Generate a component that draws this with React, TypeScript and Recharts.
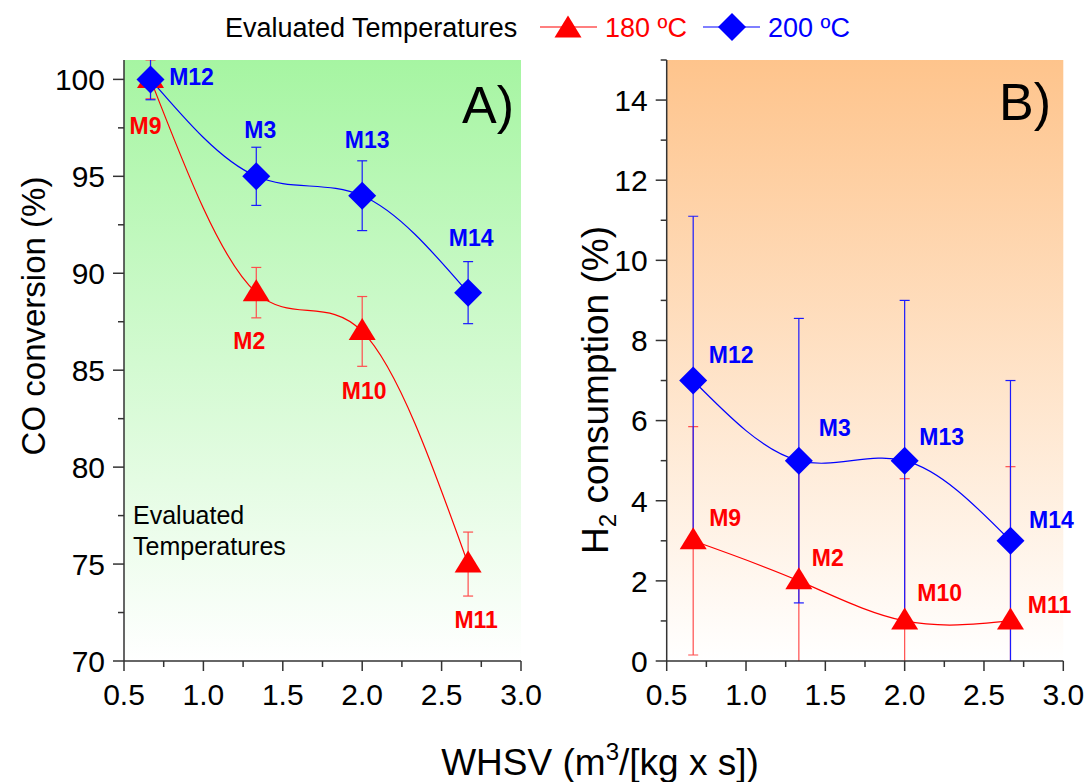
import React from "react";
import {
  LineChart,
  Line,
  XAxis,
  YAxis,
  ErrorBar,
  LabelList,
  ReferenceArea,
} from "recharts";

// WHSV values (m3/[kg x s]) shared by both panels
const whsv = [0.667, 1.333, 2.0, 2.667];
const samples180 = ["M9", "M2", "M10", "M11"];
const samples200 = ["M12", "M3", "M13", "M14"];

// A) CO conversion (%)
const co180 = [100, 89, 87, 75];
const co180Err = [1.0, 1.3, 1.8, 1.65];
const co200 = [100, 95, 94, 89];
const co200Err = [1.05, 1.5, 1.8, 1.6];

// B) H2 consumption (%)
const h2180 = [3, 2, 1, 1];
const h2180Err = [2.85, 3.2, 3.55, 3.85];
const h2200 = [7, 5, 5, 3];
const h2200Err = [4.1, 3.55, 4.0, 4.0];

const xTicks = [0.5, 0.75, 1.0, 1.25, 1.5, 1.75, 2.0, 2.25, 2.5, 2.75, 3.0];
const xMajor = [0.5, 1.0, 1.5, 2.0, 2.5, 3.0];
const coTicks = [70, 72.5, 75, 77.5, 80, 82.5, 85, 87.5, 90, 92.5, 95, 97.5, 100];
const coMajor = [70, 75, 80, 85, 90, 95, 100];
const h2Ticks = [0, 1, 2, 3, 4, 5, 6, 7, 8, 9, 10, 11, 12, 13, 14, 15];
const h2Major = [0, 2, 4, 6, 8, 10, 12, 14];

const legendTitle = "Evaluated Temperatures";
const series180 = "180 ºC";
const series200 = "200 ºC";

const coRows = whsv.map((x, i) => ({
  x,
  v180: co180[i],
  e180: co180Err[i],
  n180: samples180[i],
  v200: co200[i],
  e200: co200Err[i],
  n200: samples200[i],
}));

const h2Rows = whsv.map((x, i) => ({
  x,
  v180: h2180[i],
  e180: h2180Err[i],
  n180: samples180[i],
  v200: h2200[i],
  e200: h2200Err[i],
  n200: samples200[i],
}));

// label offsets from the marker (px), per point
const coPos180 = [[-5, 46], [-7, 48], [2, 59], [8, 56]];
const coPos200 = [[41, -3], [4, -47], [5, -56], [3, -55]];
const h2Pos180 = [[32, -23], [29, -23], [35, -28], [39, -16]];
const h2Pos200 = [[38, -26], [36, -33], [37, -24], [41, -21]];

const RED = "#ff0000";
const BLUE = "#0000ff";
const AXIS = "#333333";
const FONT = '"Liberation Sans", Arial, sans-serif';
const H = 782;

const tri = (cx: number, cy: number, fill: string) => (
  <polygon
    points={`${cx},${cy - 13.5} ${cx + 13.5},${cy + 8.5} ${cx - 13.5},${cy + 8.5}`}
    fill={fill}
  />
);

const diamond = (cx: number, cy: number, fill: string) => (
  <polygon
    points={`${cx},${cy - 14} ${cx + 14},${cy} ${cx},${cy + 14} ${cx - 14},${cy}`}
    fill={fill}
  />
);

const makeXTick = (props: any) => {
  const { x, y, payload } = props;
  const major = xMajor.includes(payload.value);
  return (
    <g>
      <line x1={x} x2={x} y1={y} y2={y + (major ? 10 : 6)} stroke={AXIS} strokeWidth={1.5} />
      {major && (
        <text x={x} y={y + 44} textAnchor="middle" fontSize={30} fill="#000" fontFamily={FONT}>
          {payload.value.toFixed(1)}
        </text>
      )}
    </g>
  );
};

const makeYTick = (majors: number[]) => (props: any) => {
  const { x, y, payload } = props;
  const major = majors.includes(payload.value);
  return (
    <g>
      <line x1={x} x2={x - (major ? 11 : 6)} y1={y} y2={y} stroke={AXIS} strokeWidth={1.5} />
      {major && (
        <text x={x - 19} y={y} dy="0.36em" textAnchor="end" fontSize={30} fill="#000" fontFamily={FONT}>
          {payload.value}
        </text>
      )}
    </g>
  );
};

const makeLabel = (pos: number[][], color: string) => (props: any) => {
  const vb = props.viewBox || {};
  const px = props.x ?? vb.x;
  const py = props.y ?? vb.y;
  const [dx, dy] = pos[props.index] || [0, 0];
  return (
    <text
      x={px + dx}
      y={py + dy}
      dy="0.36em"
      textAnchor="middle"
      fontSize={23}
      fontWeight="bold"
      fill={color}
      fontFamily={FONT}
    >
      {props.value}
    </text>
  );
};

function Panel({
  rows,
  yDomain,
  yTicks,
  yMajor,
  gradId,
  gradTop,
  pos180,
  pos200,
  width,
  margin,
}: any) {
  const clipId = `${gradId}-clip`;
  const plotX = margin.left + 60;
  const plotW = width - margin.right - plotX;
  const plotH = H - margin.top - margin.bottom - 40;
  return (
    <LineChart width={width} height={H} data={rows} margin={margin}>
      <defs>
        <linearGradient id={gradId} x1="0" y1="0" x2="0" y2="1">
          <stop offset="0%" stopColor={gradTop} />
          <stop offset="100%" stopColor="#ffffff" />
        </linearGradient>
        <clipPath id={clipId}>
          <rect x={plotX} y={margin.top} width={plotW} height={plotH} />
        </clipPath>
      </defs>
      <ReferenceArea
        x1={0.5}
        x2={3}
        y1={yDomain[0]}
        y2={yDomain[1]}
        fill={`url(#${gradId})`}
        fillOpacity={1}
        stroke="none"
      />
      <XAxis
        dataKey="x"
        type="number"
        domain={[0.5, 3]}
        ticks={xTicks}
        interval={0}
        tickSize={0}
        tickMargin={0}
        tickLine={false}
        height={40}
        axisLine={{ stroke: AXIS, strokeWidth: 1.5 }}
        tick={makeXTick}
      />
      <YAxis
        type="number"
        domain={yDomain}
        ticks={yTicks}
        interval={0}
        allowDataOverflow
        tickSize={0}
        tickMargin={0}
        tickLine={false}
        width={60}
        axisLine={{ stroke: AXIS, strokeWidth: 1.5 }}
        tick={makeYTick(yMajor)}
      />
      <Line
        dataKey="v180"
        type="natural"
        stroke={RED}
        strokeWidth={1.2}
        isAnimationActive={false}
        dot={(p: any) => <g key={`r${p.index}`}>{tri(p.cx, p.cy, RED)}</g>}
      >
        <ErrorBar
          dataKey="e180"
          width={5}
          stroke="#ff4d4d"
          strokeWidth={1.2}
          direction="y"
          clipPath={`url(#${clipId})`}
          isAnimationActive={false}
        />
        <LabelList dataKey="n180" content={makeLabel(pos180, RED)} />
      </Line>
      <Line
        dataKey="v200"
        type="natural"
        stroke={BLUE}
        strokeWidth={1.2}
        isAnimationActive={false}
        dot={(p: any) => <g key={`b${p.index}`}>{diamond(p.cx, p.cy, BLUE)}</g>}
      >
        <ErrorBar
          dataKey="e200"
          width={5}
          stroke="#1a1aff"
          strokeWidth={1.2}
          direction="y"
          clipPath={`url(#${clipId})`}
          isAnimationActive={false}
        />
        <LabelList dataKey="n200" content={makeLabel(pos200, BLUE)} />
      </Line>
    </LineChart>
  );
}

export default function App() {
  return (
    <div
      style={{
        position: "absolute",
        left: 0,
        top: 0,
        width: 1090,
        height: H,
        background: "#fff",
        fontFamily: FONT,
        overflow: "hidden",
      }}
    >
      <div style={{ position: "absolute", left: 0, top: 0 }}>
        <Panel
          rows={coRows}
          yDomain={[70, 101]}
          yTicks={coTicks}
          yMajor={coMajor}
          gradId="gradA"
          gradTop="#a6f5a2"
          pos180={coPos180}
          pos200={coPos200}
          width={560}
          margin={{ top: 60, right: 39, bottom: 81, left: 64 }}
        />
      </div>
      <div style={{ position: "absolute", left: 560, top: 0 }}>
        <Panel
          rows={h2Rows}
          yDomain={[0, 15]}
          yTicks={h2Ticks}
          yMajor={h2Major}
          gradId="gradB"
          gradTop="#fec48c"
          pos180={h2Pos180}
          pos200={h2Pos200}
          width={530}
          margin={{ top: 60, right: 26.7, bottom: 81, left: 46.7 }}
        />
      </div>
      <svg
        width={1090}
        height={H}
        style={{ position: "absolute", left: 0, top: 0, pointerEvents: "none" }}
        fontFamily={FONT}
      >
        {/* legend */}
        <text x={225} y={37} fontSize={27} fill="#000">
          {legendTitle}
        </text>
        <line x1={540} x2={597} y1={27} y2={27} stroke={RED} strokeWidth={1.2} />
        {tri(568, 29, RED)}
        <text x={605} y={37} fontSize={27} fill={RED}>
          {series180}
        </text>
        <line x1={703} x2={760} y1={27} y2={27} stroke={BLUE} strokeWidth={1.2} />
        {diamond(732, 27, BLUE)}
        <text x={768} y={37} fontSize={27} fill={BLUE}>
          {series200}
        </text>

        {/* panel tags */}
        <text x={462} y={123} fontSize={52} fill="#000">
          A)
        </text>
        <text x={999} y={120} fontSize={52} fill="#000">
          B)
        </text>

        <text x={133} y={524} fontSize={25} fill="#000">
          Evaluated
        </text>
        <text x={133} y={555} fontSize={25} fill="#000">
          Temperatures
        </text>

        {/* axis titles */}
        <text transform="translate(45,316) rotate(-90)" textAnchor="middle" fontSize={33} fill="#000">
          CO conversion (%)
        </text>
        <text transform="translate(608,390) rotate(-90)" textAnchor="middle" fontSize={37} fill="#000">
          H
          <tspan fontSize={24} dy={8}>
            2
          </tspan>
          <tspan dy={-8}> consumption (%)</tspan>
        </text>
        <text x={600} y={775} textAnchor="middle" fontSize={37} fill="#000">
          WHSV (m
          <tspan fontSize={24} dy={-15}>
            3
          </tspan>
          <tspan dy={15}>/[kg x s])</tspan>
        </text>
      </svg>
    </div>
  );
}
